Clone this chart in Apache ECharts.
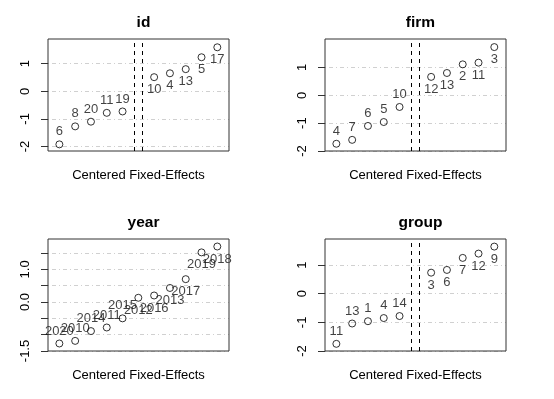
<!DOCTYPE html>
<html>
<head>
<meta charset="utf-8">
<script src="https://cdn.jsdelivr.net/npm/echarts@6/dist/echarts.min.js"></script>
<style>
    body { margin: 0; background: #fff; }
    #chart { width: 554px; height: 399px; }
</style>
</head>
<body>
<div id="chart"></div>
<script>
// fixed effects, sorted, per factor
const idNames = ["6", "8", "20", "11", "19", "10", "4", "13", "5", "17"]
const idValues = [-1.92, -1.27, -1.10, -0.78, -0.73, 0.51, 0.65, 0.80, 1.23, 1.59]

const firmNames = ["4", "7", "6", "5", "10", "12", "13", "2", "11", "3"]
const firmValues = [-1.74, -1.60, -1.10, -0.96, -0.42, 0.66, 0.80, 1.11, 1.17, 1.73]

const yearNames = ["2020", "2010", "2014", "2011", "2015", "2012", "2016", "2013", "2017", "2019", "2018"]
const yearValues = [-1.27, -1.19, -0.89, -0.78, -0.50, 0.13, 0.20, 0.43, 0.70, 1.52, 1.70]

const groupNames = ["11", "13", "1", "4", "14", "3", "6", "7", "12", "9"]
const groupValues = [-1.75, -1.04, -0.96, -0.85, -0.78, 0.735, 0.83, 1.25, 1.40, 1.645]

// y ticks
const intTicks = [-2, -1, 0, 1]
const yearTicks = [-1.5, -1.0, -0.5, 0.0, 0.5, 1.0, 1.5]
const yearTickLabels = [-1.5, 0.0, 1.0]

const FONT = "'Liberation Sans', Arial, sans-serif"
const gapLines = [5.75, 6.25]

const panels = [
    { title: "id", names: idNames, values: idValues, left: 48, top: 39, min: -2.16, max: 1.89, ticks: intTicks, labels: intTicks, gap: true },
    { title: "firm", names: firmNames, values: firmValues, left: 325, top: 39, min: -2.0, max: 2.02, ticks: intTicks, labels: intTicks, gap: true },
    { title: "year", names: yearNames, values: yearValues, left: 48, top: 239, min: -1.5, max: 1.93, ticks: yearTicks, labels: yearTickLabels, gap: false },
    { title: "group", names: groupNames, values: groupValues, left: 325, top: 239, min: -2.0, max: 1.91, ticks: intTicks, labels: intTicks, gap: true },
]

const W = 181, H = 112

var myChart = echarts.init(document.getElementById("chart"))

const option = {
    animation: false,
    backgroundColor: "#fff",
    title: [],
    grid: [],
    xAxis: [],
    yAxis: [],
    series: [],
}

panels.forEach((p, k) => {
    option.title.push({
        text: p.title,
        left: p.left + W / 2,
        top: p.top - 29,
        textAlign: "center",
        textStyle: { fontFamily: FONT, fontSize: 15.5, fontWeight: "bold", color: "#000" },
    })
    option.grid.push({
        left: p.left, top: p.top, width: W, height: H,
        show: true, borderColor: "#333", borderWidth: 1, z: 5,
    })
    option.xAxis.push({
        type: "value", gridIndex: k, min: 0.28, max: 11.74,
        name: "Centered Fixed-Effects", nameLocation: "middle", nameGap: 18,
        nameTextStyle: { fontFamily: FONT, fontSize: 13, color: "#000" },
        axisLine: { show: false }, axisTick: { show: false },
        axisLabel: { show: false }, splitLine: { show: false },
    })
    option.yAxis.push({
        type: "value", gridIndex: k, min: p.min, max: p.max,
        axisLine: { show: false },
        axisTick: { show: true, inside: false, length: 7, customValues: p.ticks, lineStyle: { color: "#333" } },
        axisLabel: {
            customValues: p.labels, rotate: 90, margin: 16,
            fontFamily: FONT, fontSize: 13, color: "#000",
            formatter: (v) => (p.title === "year" ? v.toFixed(1) : String(v)),
        },
        splitLine: { show: true, lineStyle: { color: "#d0d0d0", type: [1, 3, 4, 3], width: 1 } },
    })
    const data = p.values.map((v, i) => {
        // one empty slot in the middle when the gap is drawn
        const x = p.gap && i >= 5 ? i + 2 : i + 1
        return {
            name: p.names[i],
            value: [x, v],
            label: { position: i < 5 ? "top" : "bottom" },
        }
    })
    const s = {
        type: "scatter",
        xAxisIndex: k,
        yAxisIndex: k,
        symbol: "circle",
        symbolSize: 7,
        itemStyle: { color: "rgba(255,255,255,0)", borderColor: "#000", borderWidth: 1 },
        label: {
            show: true, distance: 2, formatter: "{b}",
            fontFamily: FONT, fontSize: 13, color: "#111",
        },
        data: data,
    }
    if (p.gap) {
        s.markLine = {
            silent: true, symbol: "none",
            label: { show: false },
            lineStyle: { color: "#000", type: [4, 4], width: 1 },
            data: gapLines.map((g) => ({ xAxis: g })),
        }
    }
    option.series.push(s)
})

myChart.setOption(option)
</script>
</body>
</html>
